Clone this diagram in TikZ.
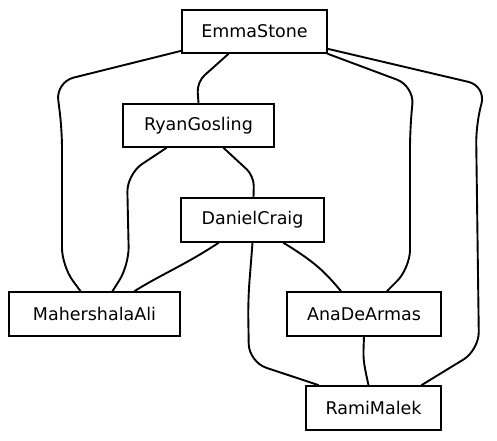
\documentclass[tikz,border=0pt]{standalone}
\usepackage{fontspec}
\setmainfont{DejaVu Sans}
\begin{document}
\begin{tikzpicture}[x=1pt,y=-1pt,
  box/.style={draw=black,line width=1.7pt,rectangle,inner sep=0pt,font=\fontsize{17.5}{20}\selectfont},
  edge/.style={draw=black,line width=1.9pt,rounded corners=18pt,line cap=round}]
\useasboundingbox (0,0) rectangle (497,440);
\node[box,minimum width=145pt,minimum height=43pt] (E) at (254.5,31.5) {EmmaStone};
\node[box,minimum width=151pt,minimum height=43pt] (R) at (198.5,125.5) {RyanGosling};
\node[box,minimum width=143pt,minimum height=44pt] (D) at (252.5,220) {DanielCraig};
\node[box,minimum width=171pt,minimum height=44pt] (M) at (94.5,314) {MahershalaAli};
\node[box,minimum width=154pt,minimum height=44pt] (A) at (364,314) {AnaDeArmas};
\node[box,minimum width=135pt,minimum height=44pt] (K) at (373.5,408) {RamiMalek};
% EmmaStone -> MahershalaAli
\draw[edge] ([yshift=3pt]E.south west) -- (56,82) -- (62,130) -- (62,266) -- ([xshift=-14pt]M.north);
% EmmaStone -> AnaDeArmas
\draw[edge] (E.south east) -- (414,86) -- (410,130) -- (410,268) -- ([xshift=23pt]A.north);
% EmmaStone -> RamiMalek
\draw[edge] ([yshift=5pt]E.south east) -- (486,86) -- (476,125) -- (479,350) -- ([xshift=48pt]K.north);
% EmmaStone -> RyanGosling
\draw[edge,rounded corners=10pt] ([xshift=-26pt]E.south) -- (197,82) -- (R.north);
% RyanGosling -> MahershalaAli
\draw[edge] ([xshift=-32pt]R.south) -- (127,174) -- (129,265) -- ([xshift=18pt]M.north);
% RyanGosling -> DanielCraig
\draw[edge,rounded corners=10pt] ([xshift=25pt]R.south) -- (254,176) -- ([xshift=1pt]D.north);
% DanielCraig -> MahershalaAli
\draw[edge] ([xshift=-34pt]D.south) .. controls (185,265) and (160,275) .. ([xshift=40pt]M.north);
% DanielCraig -> AnaDeArmas
\draw[edge] ([xshift=31pt]D.south) .. controls (315,262) and (325,272) .. ([xshift=-23pt]A.north);
% DanielCraig -> RamiMalek
\draw[edge] (D.south) -- (248,300) -- (249,362) -- ([xshift=-55pt]K.north);
% AnaDeArmas -> RamiMalek
\draw[edge] (A.south) .. controls (363,360) .. ([xshift=-5pt]K.north);
\end{tikzpicture}
\end{document}
